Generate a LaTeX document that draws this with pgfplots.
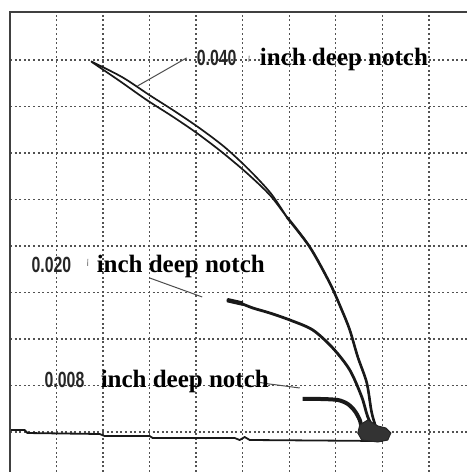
\documentclass[border=0pt]{standalone}
\usepackage{fontspec}
\setmainfont{Liberation Serif}
\newfontfamily\numfont{Liberation Sans}
\usepackage{pgfplots}
\pgfplotsset{compat=1.18}

\begin{document}
\begin{tikzpicture}
\begin{axis}[
  name=ax,
  scale only axis,
  width=457pt, height=460pt,
  xmin=0, xmax=9.82, ymin=0.14, ymax=10.03,
  xtick={1,...,9}, ytick={1,...,9},
  xticklabels={}, yticklabels={},
  major tick length=0pt,
  axis line style={draw=none},
  grid=major,
  grid style={black!68, line width=1.4pt, dash pattern=on 2pt off 2.6pt},
]
% baseline
\addplot[black!90, line width=1.8pt] coordinates {
 (0,1.043) (0.312,1.043) (0.376,0.978) (1.925,0.957) (2.032,0.914) (3.0,0.914)
 (3.065,0.871) (4.828,0.871) (4.935,0.828) (5.043,0.892) (5.151,0.828) (8.011,0.806)};
% 0.040 inch notch, two strands
\addplot[black!90, line width=1.7pt, smooth] coordinates {
 (1.753,8.957) (2.355,8.548) (2.935,8.140) (3.473,7.796) (4.011,7.430) (4.548,7.022)
 (5.086,6.570) (5.581,6.097) (5.946,5.624) (6.441,4.978) (6.871,4.204) (7.129,3.624)
 (7.301,3.194) (7.473,2.613) (7.667,2.054) (7.774,1.409) (7.903,1.000) (8.011,0.871)};
\addplot[black!90, line width=1.7pt, smooth] coordinates {
 (1.740,8.970) (2.410,8.630) (3.005,8.238) (3.543,7.894) (4.081,7.528) (4.618,7.120)
 (5.135,6.640) (5.606,6.130) (5.946,5.624)};
\addplot[black!90, line width=2.6pt, smooth] coordinates {
 (5.946,5.624) (6.441,4.978) (6.871,4.204) (7.129,3.624) (7.301,3.194) (7.473,2.613)
 (7.667,2.054) (7.774,1.409) (7.903,1.000) (8.011,0.871)};
% 0.020 inch notch
\addplot[black!90, line width=2.8pt, smooth] coordinates {
 (4.656,3.839) (4.935,3.774) (5.215,3.667) (5.581,3.559) (6.011,3.409) (6.505,3.194)
 (6.935,2.806) (7.301,2.333) (7.559,1.753) (7.688,1.323) (7.839,1.043) (8.011,0.914)};
\addplot[black!90, line width=4.4pt] coordinates {(4.67,3.835) (5.0,3.760)};
% 0.008 inch notch
\addplot[black!90, line width=4pt, smooth] coordinates {
 (6.290,1.710) (6.656,1.710) (7.043,1.688) (7.258,1.602) (7.409,1.452) (7.516,1.258)
 (7.581,1.043) (7.774,0.957) (8.054,0.957)};
% blob where the traces meet
\addplot[draw=black!85, fill=black!80, line width=1pt] coordinates {
 (7.516,1.151) (7.688,1.258) (7.903,1.129) (8.075,1.086) (8.183,0.978) (8.118,0.828)
 (7.903,0.785) (7.559,0.828) (7.473,0.978)} -- cycle;

% leader lines
\draw[black!70, line width=1pt] (axis cs:2.742,8.441) -- (axis cs:3.796,9.043);
\draw[black!70, line width=1pt] (axis cs:3.0,4.312) -- (axis cs:4.129,3.903);
\draw[black!70, line width=1pt] (axis cs:5.312,2.075) -- (axis cs:5.570,2.032)
  -- (axis cs:5.742,2.011) -- (axis cs:6.226,1.946);
\draw[black!45, line width=0.9pt] (axis cs:5.129,8.96) -- (axis cs:5.14,9.09);
\draw[black!45, line width=0.9pt] (axis cs:1.667,4.57) -- (axis cs:1.672,4.72);

% labels
\node[anchor=base west, inner sep=0pt, xscale=0.72, black!85,
  font=\numfont\bfseries\fontsize{22}{22}\selectfont] at (axis cs:4.011,8.871) {0.040};
\node[anchor=base west, inner sep=0pt, black,
  font=\fontsize{25}{25}\selectfont\bfseries] at (axis cs:5.366,8.871) {inch deep notch};
\node[anchor=base west, inner sep=0pt, xscale=0.72, black!85,
  font=\numfont\bfseries\fontsize{22}{22}\selectfont] at (axis cs:0.462,4.43) {0.020};
\node[anchor=base west, inner sep=0pt, black,
  font=\fontsize{25}{25}\selectfont\bfseries] at (axis cs:1.860,4.43) {inch deep notch};
\node[anchor=base west, inner sep=0pt, xscale=0.72, black!85,
  font=\numfont\bfseries\fontsize{22}{22}\selectfont] at (axis cs:0.742,1.946) {0.008};
\node[anchor=base west, inner sep=0pt, black,
  font=\fontsize{25}{25}\selectfont\bfseries] at (axis cs:1.946,1.946) {inch deep notch};
\end{axis}
\pgfresetboundingbox
\path[use as bounding box] ([xshift=-10pt]ax.south west) rectangle ([yshift=12pt]ax.north east);
\draw[black!75, line width=2pt] (ax.south west) -- (ax.north west) -- (ax.north east);
\end{tikzpicture}
\end{document}
